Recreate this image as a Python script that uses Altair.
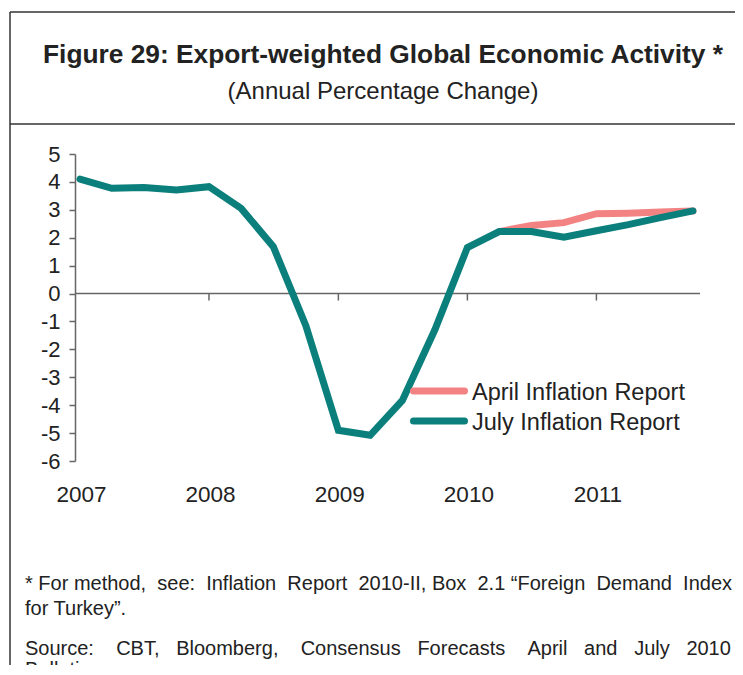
import altair as alt
import pandas as pd

FONT = "Liberation Sans"
TEXT = "#222222"
AXIS = "#666666"
TEAL = "#0b7f7b"
PINK = "#f38383"
NB = "\u00a0"

quarters = [
    "2007-01-01", "2007-04-01", "2007-07-01", "2007-10-01",
    "2008-01-01", "2008-04-01", "2008-07-01", "2008-10-01",
    "2009-01-01", "2009-04-01", "2009-07-01", "2009-10-01",
    "2010-01-01", "2010-04-01", "2010-07-01", "2010-10-01",
    "2011-01-01", "2011-04-01", "2011-07-01", "2011-10-01",
]
july = [4.10, 3.77, 3.80, 3.71, 3.83, 3.05, 1.68, -1.15,
        -4.90, -5.08, -3.83, -1.30, 1.65, 2.22, 2.22, 2.02,
        2.25, 2.47, 2.72, 2.96]
april = [None, None, None, None, None, None, None, None,
         None, None, None, None, None, 2.22, 2.44, 2.54,
         2.86, 2.88, 2.92, 2.96]
y_ticks = [-6, -5, -4, -3, -2, -1, 0, 1, 2, 3, 4, 5]
label_years = [2007, 2008, 2009, 2010, 2011]
tick_years = ["2008-01-01", "2009-01-01", "2010-01-01", "2011-01-01"]

july_df = pd.DataFrame({"date": quarters, "value": july})
april_df = pd.DataFrame({"date": quarters, "value": april}).dropna()

xscale = alt.Scale(
    type="utc",
    domain=[alt.DateTime(year=2006, month=12, date=18, utc=True),
            alt.DateTime(year=2011, month=10, date=21, utc=True)],
)
yscale = alt.Scale(domain=[-6, 5], nice=False, zero=False)

xaxis = alt.Axis(
    values=[alt.DateTime(year=y, month=1, date=1, utc=True) for y in label_years],
    format="%Y", title=None, ticks=False, domain=False, grid=False,
    labelFont=FONT, labelFontSize=22.5, labelColor=TEXT, labelPadding=22,
    labelOffset=1,
)
yaxis = alt.Axis(
    values=y_ticks, title=None, grid=False, tickSize=6, tickColor=AXIS,
    tickWidth=1.5, domainColor=AXIS, domainWidth=1.5,
    labelExpr="'' + datum.value",
    labelFont=FONT, labelFontSize=22, labelColor=TEXT, labelPadding=9,
)


def X(field="date"):
    return alt.X(f"{field}:T", scale=xscale, axis=xaxis)


def Y(field="value"):
    return alt.Y(f"{field}:Q", scale=yscale, axis=yaxis)


zero_line = alt.Chart(pd.DataFrame({"value": [0]})).mark_rule(
    color=AXIS, strokeWidth=1.5
).encode(y=Y())

ticks = alt.Chart(pd.DataFrame({"date": tick_years, "value": [0] * 4,
                                "value2": [-0.25] * 4})).mark_rule(
    color=AXIS, strokeWidth=1.5
).encode(x=X(), y=Y(), y2="value2:Q")

april_line = alt.Chart(april_df).mark_line(
    color=PINK, strokeWidth=7, strokeCap="round"
).encode(x=X(), y=Y())

july_line = alt.Chart(july_df).mark_line(
    color=TEAL, strokeWidth=7, strokeCap="round"
).encode(x=X(), y=Y())

one = pd.DataFrame({"a": [0]})


def text(s, x, y, size, align="left", weight="normal"):
    return alt.Chart(one).mark_text(
        font=FONT, fontSize=size, fontWeight=weight, color=TEXT,
        align=align, baseline="alphabetic"
    ).encode(x=alt.value(x), y=alt.value(y), text=alt.value(s))


def hrule(x1, x2, y, color="#333333", width=1.5, cap="butt"):
    return alt.Chart(one).mark_rule(
        color=color, strokeWidth=width, strokeCap=cap
    ).encode(x=alt.value(x1), x2=alt.value(x2), y=alt.value(y))


frame_top = hrule(-65, 670, -142)
frame_mid = hrule(-65, 670, -30)
frame_left = alt.Chart(one).mark_rule(color="#333333", strokeWidth=1.5).encode(
    x=alt.value(-65), y=alt.value(-142), y2=alt.value(540))

title = text("Figure 29: Export-weighted Global Economic Activity *", 308, -91, 26.3,
             align="center", weight="bold")
subtitle = text("(Annual Percentage Change)", 308, -55, 24, align="center")

leg1_line = hrule(338.5, 389.5, 237, color=PINK, width=7, cap="round")
leg2_line = hrule(338.5, 389.5, 267, color=TEAL, width=7, cap="round")
leg1_text = text("April Inflation Report", 397, 246, 23.5)
leg2_text = text("July Inflation Report", 397, 276, 23.5)

line1_words = ["*", "For", "method,", "see:", "Inflation", "Report", "2010-II,",
               "Box", "2.1", "\u201cForeign", "Demand", "Index"]
line1 = ""
for i, w in enumerate(line1_words):
    if i == 0:
        line1 = w
    elif i in (1, 2, 7, 9):
        line1 += " " + w
    else:
        line1 += " " + NB + w

src_words = ["Source:", "CBT,", "Bloomberg,", "Consensus", "Forecasts", "April",
             "and", "July", "2010"]
src = src_words[0]
for i, w in enumerate(src_words[1:]):
    extra = 3 if i in (0, 2, 4) else 2
    src += " " + NB * extra + w

foot1 = text(line1, -50, 436, 20)
foot2 = text("for Turkey\u201d.", -50, 461, 20)
foot3 = text(src, -50, 501, 20)
foot4 = text("Bulletins", -50, 522, 20)

chart = alt.layer(
    frame_top, frame_mid, frame_left, title, subtitle,
    zero_line, ticks, april_line, july_line,
    leg1_line, leg2_line, leg1_text, leg2_text,
    foot1, foot2, foot3, foot4,
).properties(
    width=625, height=307,
    padding={"left": 67, "top": 146, "right": 35, "bottom": 204},
    autosize=alt.AutoSizeParams(type="none"),
    background="white",
).configure_view(stroke=None)

chart.save("out.html", embed_options={"renderer": "svg", "actions": False})
